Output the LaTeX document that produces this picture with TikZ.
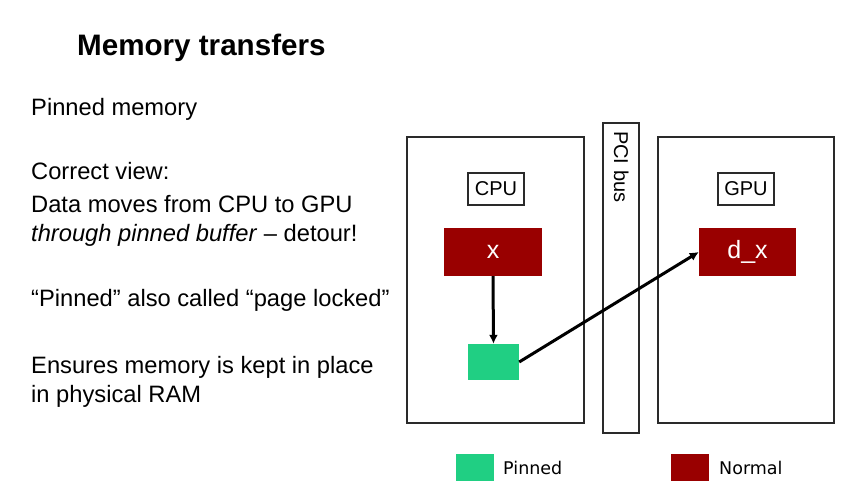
\documentclass[tikz,border=0pt]{standalone}
\usepackage{fontspec}
\setmainfont{Liberation Sans}
\newfontfamily\legendfont{DejaVu Sans}
\usetikzlibrary{arrows.meta}

\definecolor{normal}{HTML}{990000}
\definecolor{pinned}{HTML}{20CF83}
\definecolor{frame}{HTML}{2A2A2A}

\tikzset{
  slidetext/.style={anchor=base west, inner sep=0, font=\fontsize{23.7}{28}\selectfont},
  unitbox/.style={draw=frame, line width=2pt},
  unitlabel/.style={draw=frame, line width=2pt, inner sep=0, minimum width=56pt, minimum height=32pt, font=\fontsize{20}{24}\selectfont},
  membox/.style={inner sep=0, text=white, font=\fontsize{25}{30}\selectfont},
  legendbox/.style={inner sep=0, minimum width=38pt, minimum height=27pt},
  legendtext/.style={anchor=base west, inner sep=0, font=\legendfont\fontsize{17.5}{20}\selectfont},
  move/.style={line width=3pt, -{Latex[length=9pt,width=9pt]}}
}

\begin{document}
\begin{tikzpicture}[x=1pt,y=-1pt]
  \useasboundingbox (0,0) rectangle (852,497);

  % title and the text on the left
  \node [anchor=base west, inner sep=0, font=\bfseries\fontsize{29.6}{34}\selectfont] (title) at (77,56) {Memory transfers};
  \node [slidetext] (pm) at (31,116) {Pinned memory};
  \node [slidetext] (cv) at (31,180) {Correct view:};
  \node [slidetext] (dm) at (31,213) {Data moves from CPU to GPU};
  \node [slidetext] (tp) at (31,242) {\textit{through pinned buffer} – detour!};
  \node [slidetext] (pl) at (31,307) {“Pinned” also called “page locked”};
  \node [slidetext] (em) at (31,373) {Ensures memory is kept in place};
  \node [slidetext] (ip) at (31,402) {in physical RAM};

  % the two units and the bus between them
  \draw [unitbox] (407,137) rectangle (584,423);
  \draw [unitbox] (603,123) rectangle (639,433);
  \draw [unitbox] (658,137) rectangle (834,423);
  \node [anchor=base west, inner sep=0, rotate=-90, font=\fontsize{20}{24}\selectfont] (bus) at (614,131) {PCI bus};

  \node [unitlabel] (cpu) at (496,189) {CPU};
  \node [unitlabel] (gpu) at (746,189) {GPU};

  % the buffers
  \node [membox, fill=normal, minimum width=98pt, minimum height=48pt] (x) at (493,252) {x};
  \node [membox, fill=normal, minimum width=97pt, minimum height=48pt] (dx) at (747.5,252) {d\_x};
  \node [membox, fill=pinned, minimum width=51pt, minimum height=36pt] (pin) at (493.5,362) {};

  % the detour
  \draw [move] (x.south) -- (pin.north);
  \draw [move] (pin.east) -- (dx.west);

  % legend
  \node [legendbox, fill=pinned] (lp) at (475,467.5) {};
  \node [legendtext] (lpt) at (503,474) {Pinned};
  \node [legendbox, fill=normal] (ln) at (690,467.5) {};
  \node [legendtext] (lnt) at (719,474) {Normal};
\end{tikzpicture}
\end{document}
